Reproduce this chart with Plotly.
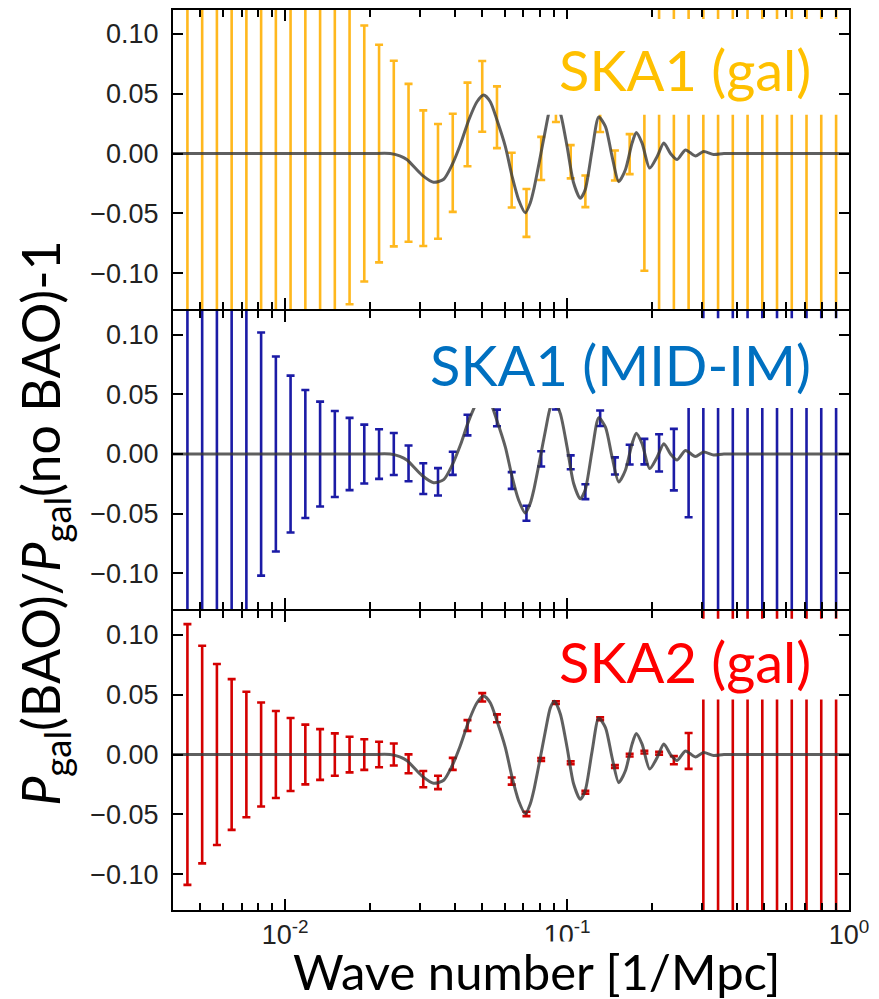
import math
import plotly.graph_objects as go
from plotly.subplots import make_subplots

# ---------------- data ----------------
k_bins = [0.0045, 0.005076, 0.005725, 0.006458, 0.007284, 0.008216, 0.009267, 0.01045,
          0.01179, 0.0133, 0.015, 0.01692, 0.01908, 0.02153, 0.02428, 0.02739, 0.03089,
          0.03484, 0.0393, 0.04433, 0.05, 0.0564, 0.06361, 0.07175, 0.08093, 0.09129,
          0.103, 0.1161, 0.131, 0.1478, 0.1667, 0.188, 0.212, 0.2392, 0.2698, 0.3043,
          0.3432, 0.3871, 0.4367, 0.4925, 0.5555, 0.6266, 0.7068, 0.7972, 0.9]

bin_center = [0, 0, 0, 0, 0, 0, 0, 0, 0, 0, 0, 0, 0, 0, 0.0, -0.0078, -0.0206, -0.0233,
              -0.0078, 0.0243, 0.0478, 0.0303, -0.0222, -0.0497, -0.0041, 0.0434, -0.0069,
              -0.0316, 0.0300, -0.0100, -0.0005, 0.0020, 0.0010, -0.0047, 0.0030,
              0, 0, 0, 0, 0, 0, 0, 0, 0, 0]

err_ska1_gal = [1.0, 1.0, 1.0, 1.0, 1.0, 1.0, 1.0, 1.0, 1.0, 1.0, 1.0, 0.126, 0.107, 0.091,
                0.0776, 0.066, 0.0567, 0.048, 0.041, 0.035, 0.0296, 0.0258, 0.0229, 0.020,
                0.018, 0.017, 0.0139, 0.0132, 0.012, 0.0125, 0.0167, 0.100,
                1.0, 1.0, 1.0, 1.0, 1.0, 1.0, 1.0, 1.0, 1.0, 1.0, 1.0, 1.0, 1.0]

err_ska1_mid = [1.0, 1.0, 1.0, 1.0, 1.0, 0.102, 0.0818, 0.0658, 0.0537, 0.044, 0.0361,
                0.0303, 0.0247, 0.0208, 0.0176, 0.015, 0.0129, 0.0115, 0.0097, 0.0086,
                0.0078, 0.007, 0.007, 0.0063, 0.0064, 0.006, 0.0058, 0.0062, 0.0065,
                0.0072, 0.0083, 0.0107, 0.0156, 0.0258, 0.056,
                1.0, 1.0, 1.0, 1.0, 1.0, 1.0, 1.0, 1.0, 1.0, 1.0]

err_ska2_gal = [0.109, 0.091, 0.0757, 0.063, 0.0525, 0.0435, 0.0364, 0.0305, 0.025, 0.0212,
                0.0177, 0.0149, 0.0128, 0.0107, 0.0092, 0.0079, 0.0068, 0.0056, 0.005,
                0.0045, 0.0035, 0.0033, 0.003, 0.0018, 0.0012, 0.0012, 0.0012, 0.0012,
                0.0012, 0.0012, 0.0012, 0.0012, 0.0012, 0.0034, 0.015,
                1.0, 1.0, 1.0, 1.0, 1.0, 1.0, 1.0, 1.0, 1.0, 1.0]

curve_k = [0.004, 0.01, 0.02, 0.0236, 0.0255, 0.027, 0.0306, 0.0336, 0.0365, 0.0391,
           0.0418, 0.0448, 0.0479, 0.0506, 0.0534, 0.0564, 0.0604, 0.0638, 0.0673, 0.0711,
           0.0741, 0.0762, 0.0803, 0.0838, 0.0872, 0.0902, 0.0947, 0.1, 0.1055, 0.1114,
           0.116, 0.1227, 0.1295, 0.1368, 0.1444, 0.1525, 0.161, 0.17, 0.176, 0.1845,
           0.1963, 0.2087, 0.2205, 0.2327, 0.2457, 0.263, 0.285, 0.305, 0.331, 0.36,
           0.5, 1.0]
curve_v = [0.0, 0.0, 0.0, 0.0, -0.002, -0.005, -0.018, -0.024, -0.0215, -0.0094,
           0.0073, 0.028, 0.0433, 0.0489, 0.0433, 0.028, 0.0058, -0.019, -0.0386, -0.0495,
           -0.041, -0.030, -0.003, 0.0198, 0.039, 0.0448, 0.0337, 0.0058, -0.0247, -0.0375,
           -0.030, 0.003, 0.0305, 0.0225, -0.0025, -0.0235, -0.0136, 0.0087, 0.0175, 0.0087,
           -0.0122, -0.0025, 0.0087, 0.0, -0.005, 0.003, -0.002, 0.0017, -0.0008, 0.0,
           0.0, 0.0]

panel_labels = ["SKA1 (gal)", "SKA1 (MID-IM)", "SKA2 (gal)"]
bar_colors = ["#FFB81E", "#1B1BA6", "#D40000"]
label_colors = ["#FFC000", "#0070C0", "#FF0000"]
y_ticks = [-0.10, -0.05, 0.0, 0.05, 0.10]
x_major = [0.01, 0.1, 1.0]
x_major_text = ["10<sup>-2</sup>", "10<sup>-1</sup>", "10<sup>0</sup>"]
x_minor = [0.005, 0.006, 0.007, 0.008, 0.009, 0.02, 0.03, 0.04, 0.05, 0.06, 0.07, 0.08,
           0.09, 0.2, 0.3, 0.4, 0.5, 0.6, 0.7, 0.8, 0.9]
errors = [err_ska1_gal, err_ska1_mid, err_ska2_gal]

# ---------------- figure ----------------
W, H = 879, 999
ML, MR, MT, MB = 173, 30, 8, 89
PW, PH = W - ML - MR, H - MT - MB

def px(x):
    return (x - ML) / PW

def py(y):
    return (H - MB - y) / PH

fig = make_subplots(rows=3, cols=1, shared_xaxes=False, vertical_spacing=0)

for i in range(3):
    row = i + 1
    fig.add_trace(go.Scatter(
        x=k_bins, y=bin_center, mode="markers",
        marker=dict(size=1, color="rgba(0,0,0,0)"),
        error_y=dict(type="data", array=errors[i], color=bar_colors[i],
                     thickness=2.6, width=4),
        showlegend=False, hoverinfo="skip"), row=row, col=1)
    fig.add_trace(go.Scatter(
        x=curve_k, y=curve_v, mode="lines",
        line=dict(color="rgba(55,55,55,0.8)", width=3, shape="spline", smoothing=0.7),
        showlegend=False, hoverinfo="skip"), row=row, col=1)

axis_font = dict(family="Liberation Sans, Arial", size=27, color="#222222")
for i in range(3):
    row = i + 1
    fig.update_xaxes(
        type="log", range=[math.log10(0.004), 0],
        showline=True, linecolor="black", linewidth=2, mirror="ticks",
        ticks="inside", ticklen=11, tickwidth=2, tickcolor="black",
        tickmode="array", tickvals=x_major, ticktext=x_major_text,
        showticklabels=(row == 3), tickfont=axis_font,
        minor=dict(ticks="inside", ticklen=7, tickwidth=2, tickcolor="black",
                   tickmode="array", tickvals=x_minor, showgrid=False),
        showgrid=False, zeroline=False, row=row, col=1)
    fig.update_yaxes(
        range=[-0.13, 0.12],
        showline=True, linecolor="black", linewidth=2, mirror="ticks",
        ticks="inside", ticklen=10, tickwidth=2, tickcolor="black",
        tickmode="array", tickvals=y_ticks, tickformat=".2f",
        tickfont=axis_font, ticklabelstandoff=7,
        showgrid=False, zeroline=False, row=row, col=1)

g = 1.0 / PH  # half of a 2px gap so neighbouring frame lines coincide
fig.update_layout(
    yaxis=dict(domain=[2/3 + g, 1.0]),
    yaxis2=dict(domain=[1/3 + g, 2/3 - g]),
    yaxis3=dict(domain=[0.0, 1/3 - g]),
)

# white label boxes (cover data below the label, as in the reference)
boxes = [(525, 17, 838, 113), (425, 317, 838, 407), (520, 618, 838, 699)]
shapes = []
for (x0, y0, x1, y1) in boxes:
    shapes.append(dict(type="rect", xref="paper", yref="paper",
                       x0=px(x0), x1=px(x1), y0=py(y1), y1=py(y0),
                       fillcolor="white", line=dict(width=0), layer="above"))

label_y = [68, 363, 661]
annotations = []
for i in range(3):
    annotations.append(dict(
        text=panel_labels[i], xref="paper", yref="paper",
        x=px(813), y=py(label_y[i]), xanchor="right", yanchor="middle",
        showarrow=False, font=dict(family="Lato", size=56, color=label_colors[i])))

annotations.append(dict(
    text="<i>P</i><sub>gal</sub>(BAO)/<i>P</i><sub>gal</sub>(no BAO)-1",
    xref="paper", yref="paper", x=px(44), y=py(522), xanchor="center", yanchor="middle",
    textangle=-90, showarrow=False, font=dict(family="Lato", size=52, color="black")))

annotations.append(dict(
    text="Wave number [1/Mpc]", xref="paper", yref="paper",
    x=px(537), y=py(971), xanchor="center", yanchor="middle",
    showarrow=False, bgcolor="white", borderpad=0,
    font=dict(family="Lato", size=49, color="black")))

fig.update_layout(
    width=W, height=H,
    margin=dict(l=ML, r=MR, t=MT, b=MB),
    paper_bgcolor="white", plot_bgcolor="white",
    shapes=shapes, annotations=annotations, showlegend=False,
)

fig.write_html("out.html")
